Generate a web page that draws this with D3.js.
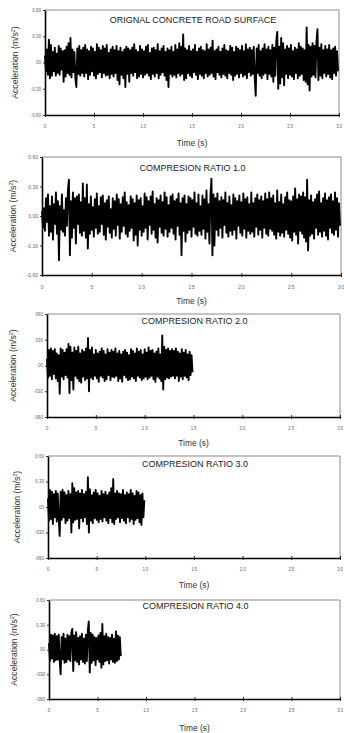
<!DOCTYPE html>
<html>
<head>
<meta charset="utf-8">
<script src="https://cdn.jsdelivr.net/npm/d3@7"></script>
<style>
  body { margin: 0; background: #fff; }
  svg { display: block; font-family: "Liberation Sans", Arial, sans-serif; }
</style>
</head>
<body>
<svg id="chart" width="344" height="733"></svg>
<script>
// time axis ticks, shared by every panel
const xTicks = [0, 5, 10, 15, 20, 25, 30];
const yTicks = [0.6, 0.3, 0, -0.3, -0.6];

// tick labels as printed in each panel (the scan drops some decimal points)
const yLabelsRoad = ['0.60', '0.30', '00', '-0.30', '-0.60'];
const yLabelsR1 = ['0.60', '0.30', '0.00', '-0.30', '-0.60'];
const yLabelsR2 = ['060', '030', '00', '-030', '-060'];
const yLabelsR3 = ['0.60', '0.30', '00', '-030', '-060'];
const yLabelsR4 = ['0.60', '0.30', '00', '-030', '-060'];

const titles = ['ORIGNAL CONCRETE ROAD SURFACE', 'COMPRESION RATIO 1.0',
  'COMPRESION RATIO 2.0', 'COMPRESION RATIO 3.0', 'COMPRESION RATIO 4.0'];

// acceleration samples (m/s2), one every 0.1 s
const sampleStep = 0.1;

const roadSurface = [
  0.08, -0.10, 0.15, -0.14, 0.26, -0.18, 0.20, -0.15, 0.12, -0.10,
  0.17, -0.15, 0.10, -0.12, 0.19, -0.14, 0.16, -0.08, 0.13, -0.22,
  0.14, -0.16, 0.18, -0.12, 0.22, -0.14, 0.28, -0.17, 0.15, -0.11,
  0.12, -0.18, -0.28, 0.16, -0.13, 0.19, -0.15, 0.14, -0.12, 0.17,
  -0.16, 0.20, -0.12, 0.15, -0.19, 0.13, -0.14, 0.18, -0.10, 0.16,
  -0.15, 0.12, -0.18, 0.21, -0.13, 0.17, -0.11, 0.14, -0.17, 0.19,
  -0.12, 0.16, -0.15, 0.20, -0.14, 0.11, -0.18, 0.15, -0.13, 0.18,
  -0.16, 0.14, -0.12, 0.19, -0.20, 0.13, -0.25, 0.17, -0.14, 0.12,
  -0.18, 0.15, -0.28, 0.18, -0.13, 0.16, -0.22, 0.14, -0.12, 0.17,
  -0.15, 0.21, -0.11, 0.14, -0.18, 0.12, -0.16, 0.19, -0.13, 0.15,
  -0.17, 0.13, -0.14, 0.18, -0.12, 0.20, -0.15, 0.11, -0.19, 0.16,
  -0.13, 0.17, -0.16, 0.14, -0.12, 0.21, -0.18, 0.13, -0.14, 0.16,
  -0.11, 0.19, -0.15, 0.12, -0.20, 0.16, -0.28, 0.14, -0.13, 0.18,
  -0.16, 0.12, -0.14, 0.20, -0.17, 0.15, -0.12, 0.22, -0.15, 0.18,
  -0.13, 0.32, -0.20, 0.16, -0.18, 0.14, -0.12, 0.19, -0.15, 0.13,
  -0.17, 0.15, -0.11, 0.20, -0.14, 0.12, -0.19, 0.16, -0.13, 0.18,
  -0.15, 0.14, -0.18, 0.13, -0.12, 0.21, -0.16, 0.15, -0.14, 0.17,
  -0.12, 0.25, -0.16, 0.13, -0.19, 0.15, -0.11, 0.18, -0.14, 0.12,
  -0.17, 0.16, -0.13, 0.20, -0.15, 0.14, -0.18, 0.13, -0.12, 0.19,
  -0.14, 0.17, -0.20, 0.12, -0.15, 0.18, -0.13, 0.16, -0.17, 0.14,
  -0.12, 0.19, -0.16, 0.13, -0.14, 0.21, -0.18, 0.15, -0.11, 0.17,
  -0.15, 0.14, -0.13, 0.18, -0.17, -0.38, 0.16, -0.12, 0.20, -0.15,
  0.13, -0.18, 0.16, -0.14, 0.21, -0.12, 0.15, -0.19, 0.18, -0.13,
  0.14, -0.16, 0.20, -0.22, 0.17, -0.15, 0.24, 0.35, -0.30, 0.18,
  -0.24, 0.28, -0.17, 0.22, -0.26, 0.15, -0.13, 0.19, -0.18, 0.16,
  -0.14, 0.20, -0.16, 0.13, -0.19, 0.17, -0.12, 0.15, -0.18, 0.22,
  -0.15, 0.18, -0.13, 0.16, -0.20, 0.14, -0.22, 0.40, -0.25, 0.20,
  -0.32, 0.18, -0.16, 0.22, -0.14, 0.19, -0.17, 0.24, 0.38, -0.20,
  0.17, -0.15, 0.21, -0.18, 0.14, -0.12, 0.19, -0.16, 0.15, -0.13,
  0.20, -0.17, 0.14, -0.19, 0.16, -0.12, 0.18, -0.15, 0.13, -0.10
];

const ratio10 = [
  0.05, -0.12, 0.08, -0.15, 0.18, -0.06, 0.22, -0.20, 0.10, -0.16,
  0.20, -0.24, 0.12, -0.08, 0.24, -0.18, 0.15, -0.45, 0.10, -0.14,
  0.22, -0.16, 0.06, -0.20, 0.18, -0.10, 0.26, 0.37, -0.40, 0.15,
  -0.22, 0.24, -0.12, 0.18, -0.28, 0.20, -0.08, 0.22, -0.17, 0.14,
  -0.20, 0.33, -0.15, 0.18, -0.22, 0.32, -0.33, 0.12, -0.18, 0.20,
  -0.14, 0.09, -0.21, 0.17, -0.12, 0.23, -0.18, 0.10, -0.16, 0.19,
  -0.08, 0.21, -0.19, 0.13, -0.24, 0.16, -0.11, 0.20, -0.17, 0.07,
  -0.22, 0.18, -0.13, 0.15, -0.20, 0.22, -0.09, 0.17, -0.23, 0.12,
  -0.16, 0.19, -0.10, 0.24, -0.18, 0.14, -0.21, 0.11, -0.15, 0.20,
  -0.12, 0.17, -0.25, 0.13, -0.19, 0.21, -0.30, 0.16, -0.14, 0.18,
  -0.20, 0.10, -0.16, 0.23, -0.12, 0.19, -0.24, 0.15, -0.09, 0.20,
  -0.18, 0.25, -0.14, 0.12, -0.22, 0.18, -0.27, 0.16, -0.11, 0.21,
  -0.17, 0.14, -0.20, 0.24, -0.13, 0.19, -0.21, 0.11, -0.16, 0.20,
  -0.12, 0.22, -0.18, 0.15, -0.24, 0.17, -0.10, 0.23, -0.19, 0.13,
  -0.40, 0.18, -0.15, 0.21, -0.26, 0.12, -0.17, 0.20, -0.14, 0.18,
  -0.21, 0.16, -0.11, 0.24, -0.18, 0.13, -0.20, 0.22, -0.15, 0.10,
  -0.19, 0.21, -0.13, 0.17, -0.23, 0.26, -0.16, 0.12, -0.28, 0.20,
  0.38, -0.40, 0.22, -0.30, 0.18, -0.14, 0.23, -0.20, 0.15, -0.12,
  0.19, -0.22, 0.16, -0.09, 0.24, -0.17, 0.13, -0.21, 0.20, -0.15,
  0.11, -0.19, 0.22, -0.14, 0.18, -0.23, 0.15, -0.10, 0.21, -0.17,
  0.14, -0.20, 0.23, -0.13, 0.17, -0.22, 0.19, -0.15, 0.12, -0.18,
  0.24, -0.16, 0.13, -0.21, 0.18, -0.11, 0.22, -0.19, 0.16, -0.14,
  0.20, -0.22, 0.15, -0.12, 0.23, -0.18, 0.17, -0.20, 0.24, -0.13,
  0.18, -0.15, 0.21, -0.19, 0.13, -0.23, 0.26, -0.16, 0.14, -0.20,
  0.22, -0.17, 0.12, -0.21, 0.19, -0.14, 0.24, -0.18, 0.16, -0.22,
  0.15, -0.25, 0.20, -0.16, 0.28, -0.19, 0.17, -0.28, 0.22, -0.15,
  0.20, -0.18, 0.24, -0.22, 0.19, -0.26, 0.37, -0.35, 0.16, -0.20,
  0.21, -0.18, 0.14, -0.23, 0.17, -0.12, 0.22, -0.19, 0.25, -0.16,
  0.13, -0.21, 0.18, -0.15, 0.23, -0.20, 0.16, -0.24, 0.19, -0.12,
  0.22, -0.17, 0.15, -0.19, 0.24, -0.14, 0.18, -0.21, 0.13, -0.10
];

const ratio20 = [
  0.08, -0.14, 0.18, -0.12, 0.20, -0.16, 0.17, -0.10, 0.19, -0.15,
  0.14, -0.18, 0.12, -0.33, 0.20, -0.13, 0.18, -0.16, 0.15, -0.11,
  0.19, -0.14, 0.25, -0.32, 0.22, -0.17, 0.15, -0.28, 0.21, -0.12,
  0.17, -0.15, 0.22, -0.18, 0.14, -0.20, 0.18, -0.13, 0.16, -0.17,
  0.20, -0.15, 0.32, -0.30, 0.18, -0.14, 0.21, -0.16, 0.13, -0.12,
  0.18, -0.15, 0.14, -0.19, 0.16, -0.12, 0.20, -0.14, 0.17, -0.18,
  0.13, -0.16, 0.19, -0.11, 0.15, -0.17, 0.18, -0.13, 0.16, -0.14,
  0.20, -0.12, 0.14, -0.18, 0.17, -0.15, 0.13, -0.19, 0.16, -0.11,
  0.18, -0.14, 0.15, -0.17, 0.12, -0.16, 0.19, -0.13, 0.17, -0.15,
  0.14, -0.18, 0.20, -0.12, 0.16, -0.14, 0.18, -0.17, 0.13, -0.15,
  0.19, -0.13, 0.15, -0.16, 0.21, -0.14, 0.17, -0.12, 0.18, -0.16,
  0.14, -0.19, 0.16, -0.13, 0.20, -0.15, 0.13, -0.18, 0.35, -0.28,
  0.22, -0.16, 0.18, -0.14, 0.20, -0.15, 0.17, -0.13, 0.19, -0.12,
  0.17, -0.15, 0.20, -0.12, 0.16, -0.18, 0.14, -0.13, 0.19, -0.16,
  0.15, -0.12, 0.18, -0.14, 0.13, -0.17, 0.16, -0.11, 0.12, -0.08
];

const ratio30 = [
  0.10, -0.16, 0.20, -0.14, 0.18, -0.20, 0.15, -0.12, 0.19, -0.17,
  0.16, -0.13, -0.34, 0.18, -0.15, 0.20, -0.12, 0.17, -0.19, 0.14,
  -0.16, 0.19, -0.13, 0.15, -0.30, 0.28, -0.18, 0.22, -0.15, 0.17,
  -0.14, 0.19, -0.25, 0.16, -0.13, 0.20, -0.17, 0.15, -0.12, 0.18,
  -0.20, 0.35, -0.30, 0.21, -0.16, 0.14, -0.19, 0.17, -0.13, 0.20,
  -0.15, 0.16, -0.18, 0.13, -0.14, 0.19, -0.17, 0.15, -0.12, 0.18,
  -0.16, 0.14, -0.19, 0.17, -0.13, 0.22, -0.18, 0.33, -0.20, 0.16,
  -0.14, 0.19, -0.12, 0.16, -0.18, 0.15, -0.13, 0.20, -0.16, 0.14,
  -0.19, 0.17, -0.12, 0.15, -0.17, 0.20, -0.14, 0.16, -0.20, 0.13,
  -0.15, 0.19, -0.13, 0.17, -0.18, 0.14, -0.21, 0.16, -0.12, 0.08
];

const ratio40 = [
  0.08, -0.14, 0.18, -0.11, 0.17, -0.15, 0.19, -0.13, 0.16, -0.12,
  0.18, -0.14, -0.30, 0.15, -0.12, 0.19, -0.16, 0.13, -0.15, 0.18,
  -0.12, 0.16, -0.14, 0.20, 0.25, -0.26, 0.17, -0.13, 0.21, -0.15,
  0.14, -0.18, 0.16, -0.12, 0.19, -0.15, 0.13, -0.17, 0.18, -0.14,
  0.22, 0.34, -0.28, 0.20, -0.16, 0.18, -0.13, 0.15, -0.19, 0.14,
  -0.12, 0.17, -0.15, 0.20, -0.22, 0.31, -0.18, 0.16, -0.14, 0.19,
  -0.13, 0.15, -0.17, 0.14, -0.12, 0.18, -0.15, 0.13, -0.16, 0.22,
  -0.14, 0.17, -0.12, 0.15, -0.08
];

const series = [roadSurface, ratio10, ratio20, ratio30, ratio40];
const yLabelSets = [yLabelsRoad, yLabelsR1, yLabelsR2, yLabelsR3, yLabelsR4];

const panels = [
  { left: 45, right: 339, top: 10, bottom: 115, titleY: 23, timeY: 146, accX: 15, tickFont: 4.5 },
  { left: 42, right: 341, top: 157, bottom: 275, titleY: 171, timeY: 304, accX: 13, tickFont: 5 },
  { left: 47, right: 340, top: 314, bottom: 417, titleY: 324, timeY: 446, accX: 13, tickFont: 4.5 },
  { left: 48, right: 340, top: 456, bottom: 558, titleY: 467, timeY: 588, accX: 17, tickFont: 4.5 },
  { left: 49, right: 340, top: 600, bottom: 699, titleY: 609, timeY: 731, accX: 14, tickFont: 4.5 }
];

const svg = d3.select('#chart');

panels.forEach((p, k) => {
  const g = svg.append('g');

  const x = d3.scaleLinear().domain([0, 30]).range([p.left, p.right]);
  const y = d3.scaleLinear().domain([-0.6, 0.6]).range([p.bottom, p.top]);

  // grey frame on top and right
  g.append('path')
    .attr('d', `M${p.left},${p.top}H${p.right}V${p.bottom}`)
    .attr('fill', 'none')
    .attr('stroke', '#8a8a8a')
    .attr('stroke-width', 1);

  // the trace
  const line = d3.line()
    .x((d, i) => x(i * sampleStep))
    .y(d => y(d));

  g.append('path')
    .datum(series[k])
    .attr('d', line)
    .attr('fill', 'none')
    .attr('stroke', '#000')
    .attr('stroke-width', 1.9)
    .attr('stroke-linejoin', 'round');

  // bottom axis
  const xAxis = g.append('g')
    .attr('transform', `translate(0,${p.bottom})`)
    .call(d3.axisBottom(x).tickValues(xTicks).tickSizeInner(2).tickSizeOuter(0).tickPadding(8));
  xAxis.select('.domain').attr('stroke', '#000').attr('stroke-width', 1.6);
  xAxis.selectAll('.tick line').attr('y1', -2).attr('stroke-width', 0.8);
  xAxis.selectAll('.tick text')
    .attr('font-size', p.tickFont)
    .attr('font-family', '"Liberation Sans", Arial, sans-serif')
    .attr('letter-spacing', 0.8)
    .attr('fill', '#666');

  // left axis
  const yAxis = g.append('g')
    .attr('transform', `translate(${p.left},0)`)
    .call(d3.axisLeft(y).tickValues(yTicks).tickFormat((d, i) => yLabelSets[k][i])
      .tickSizeInner(2).tickSizeOuter(0).tickPadding(2));
  yAxis.select('.domain').attr('stroke', '#000').attr('stroke-width', 1.6);
  yAxis.selectAll('.tick line').attr('stroke-width', 0.8);
  yAxis.selectAll('.tick text')
    .attr('font-size', p.tickFont)
    .attr('font-family', '"Liberation Sans", Arial, sans-serif')
    .attr('fill', '#666');

  // title inside the box
  g.append('text')
    .attr('x', (p.left + p.right) / 2 + 1)
    .attr('y', p.titleY)
    .attr('text-anchor', 'middle')
    .attr('font-size', 9)
    .attr('fill', '#222')
    .text(titles[k]);

  // axis titles
  g.append('text')
    .attr('x', (p.left + p.right) / 2)
    .attr('y', p.timeY)
    .attr('text-anchor', 'middle')
    .attr('font-size', 8.4)
    .attr('fill', '#333')
    .text('Time (s)');

  const acc = g.append('text')
    .attr('transform', `translate(${p.accX + 3},${(p.top + p.bottom) / 2}) rotate(-90)`)
    .attr('text-anchor', 'middle')
    .attr('font-size', 8.6)
    .attr('fill', '#333');
  acc.append('tspan').text('Acceleration (m/s');
  acc.append('tspan').attr('font-size', 5.5).attr('dy', -3.5).text('2');
  acc.append('tspan').attr('dy', 3.5).text(')');
});
</script>
</body>
</html>
